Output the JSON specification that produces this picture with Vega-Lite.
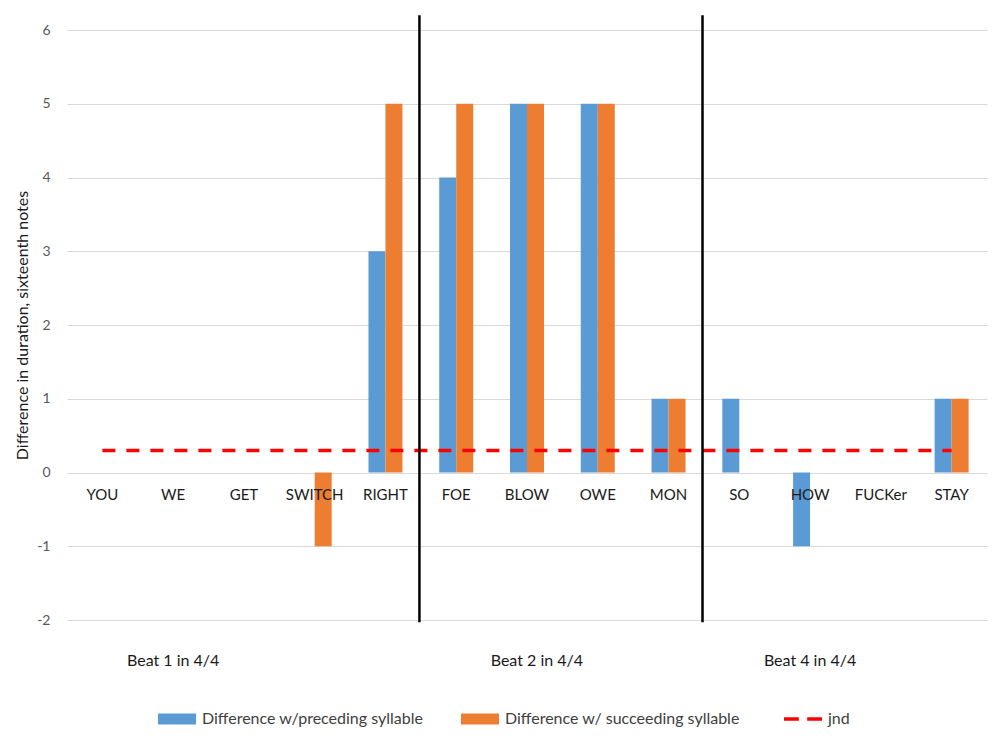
{
  "$schema": "https://vega.github.io/schema/vega-lite/v6.json",
  "width": 920,
  "height": 590,
  "autosize": {"type": "none"},
  "padding": {"left": 67, "top": 30, "right": 13, "bottom": 118},
  "background": "#ffffff",
  "config": {
    "font": "Lato",
    "view": {"stroke": null}
  },
  "datasets": {
    "bars": [
      {"syllable": "YOU", "series": "Difference w/preceding syllable", "value": 0},
      {"syllable": "YOU", "series": "Difference w/ succeeding syllable", "value": 0},
      {"syllable": "WE", "series": "Difference w/preceding syllable", "value": 0},
      {"syllable": "WE", "series": "Difference w/ succeeding syllable", "value": 0},
      {"syllable": "GET", "series": "Difference w/preceding syllable", "value": 0},
      {"syllable": "GET", "series": "Difference w/ succeeding syllable", "value": 0},
      {"syllable": "SWITCH", "series": "Difference w/preceding syllable", "value": 0},
      {"syllable": "SWITCH", "series": "Difference w/ succeeding syllable", "value": -1},
      {"syllable": "RIGHT", "series": "Difference w/preceding syllable", "value": 3},
      {"syllable": "RIGHT", "series": "Difference w/ succeeding syllable", "value": 5},
      {"syllable": "FOE", "series": "Difference w/preceding syllable", "value": 4},
      {"syllable": "FOE", "series": "Difference w/ succeeding syllable", "value": 5},
      {"syllable": "BLOW", "series": "Difference w/preceding syllable", "value": 5},
      {"syllable": "BLOW", "series": "Difference w/ succeeding syllable", "value": 5},
      {"syllable": "OWE", "series": "Difference w/preceding syllable", "value": 5},
      {"syllable": "OWE", "series": "Difference w/ succeeding syllable", "value": 5},
      {"syllable": "MON", "series": "Difference w/preceding syllable", "value": 1},
      {"syllable": "MON", "series": "Difference w/ succeeding syllable", "value": 1},
      {"syllable": "SO", "series": "Difference w/preceding syllable", "value": 1},
      {"syllable": "SO", "series": "Difference w/ succeeding syllable", "value": 0},
      {"syllable": "HOW", "series": "Difference w/preceding syllable", "value": -1},
      {"syllable": "HOW", "series": "Difference w/ succeeding syllable", "value": 0},
      {"syllable": "FUCKer", "series": "Difference w/preceding syllable", "value": 0},
      {"syllable": "FUCKer", "series": "Difference w/ succeeding syllable", "value": 0},
      {"syllable": "STAY", "series": "Difference w/preceding syllable", "value": 1},
      {"syllable": "STAY", "series": "Difference w/ succeeding syllable", "value": 1}
    ],
    "jnd": [
      {"syllable": "YOU", "jnd": 0.3},
      {"syllable": "WE", "jnd": 0.3},
      {"syllable": "GET", "jnd": 0.3},
      {"syllable": "SWITCH", "jnd": 0.3},
      {"syllable": "RIGHT", "jnd": 0.3},
      {"syllable": "FOE", "jnd": 0.3},
      {"syllable": "BLOW", "jnd": 0.3},
      {"syllable": "OWE", "jnd": 0.3},
      {"syllable": "MON", "jnd": 0.3},
      {"syllable": "SO", "jnd": 0.3},
      {"syllable": "HOW", "jnd": 0.3},
      {"syllable": "FUCKer", "jnd": 0.3},
      {"syllable": "STAY", "jnd": 0.3}
    ],
    "dividers": [
      {"syllable": "RIGHT"},
      {"syllable": "MON"}
    ],
    "beats": [
      {"beat": "Beat 1 in 4/4", "syllable": "WE"},
      {"beat": "Beat 4 in 4/4", "syllable": "HOW"}
    ]
  },
  "encoding": {
    "x": {
      "field": "syllable",
      "type": "nominal",
      "scale": {
        "domain": ["YOU", "WE", "GET", "SWITCH", "RIGHT", "FOE", "BLOW", "OWE", "MON", "SO", "HOW", "FUCKer", "STAY"],
        "paddingInner": 0.52,
        "paddingOuter": 0.26
      },
      "axis": null
    }
  },
  "layer": [
    {
      "data": {"name": "bars"},
      "mark": {"type": "bar", "clip": false},
      "encoding": {
        "y": {
          "field": "value",
          "type": "quantitative",
          "scale": {"domain": [-2, 6], "nice": false},
          "axis": {
            "title": "Difference in duration, sixteenth notes",
            "titleFont": "Lato",
            "titleFontSize": 16,
            "titleFontWeight": "normal",
            "titleColor": "#1a1a1a",
            "titlePadding": 6,
            "values": [-2, -1, 0, 1, 2, 3, 4, 5, 6],
            "labelExpr": "'' + datum.value",
            "labelFontSize": 14,
            "labelColor": "#595959",
            "labelPadding": 17,
            "ticks": false,
            "domain": false,
            "grid": true,
            "gridColor": "#d9d9d9",
            "gridWidth": 1.2
          }
        },
        "xOffset": {
          "field": "series",
          "type": "nominal",
          "scale": {"domain": ["Difference w/preceding syllable", "Difference w/ succeeding syllable"], "padding": 0}
        },
        "color": {
          "field": "series",
          "type": "nominal",
          "scale": {
            "domain": ["Difference w/preceding syllable", "Difference w/ succeeding syllable", "jnd"],
            "range": ["#5b9bd5", "#ed7d31", "#ff0000"]
          },
          "legend": {
            "orient": "none",
            "legendX": 102,
            "legendY": 681,
            "direction": "horizontal",
            "title": null,
            "labelFont": "Lato",
            "labelFontSize": 16,
            "labelColor": "#404040",
            "labelOffset": 17,
            "labelLimit": 400,
            "symbolSize": 1444,
            "columnPadding": 37,
            "symbolOpacity": 1,
            "encode": {
              "symbols": {
                "update": {
                  "shape": {"signal": "datum.value === 'jnd' ? 'M-1,0H-0.22M0.22,0H1' : 'M-1,-0.29H1V0.29H-1Z'"},
                  "fill": {"signal": "datum.value === 'jnd' ? 'transparent' : scale('color', datum.value)"},
                  "stroke": {"signal": "datum.value === 'jnd' ? '#ff0000' : 'transparent'"},
                  "strokeWidth": {"signal": "datum.value === 'jnd' ? 3.5 : 0"},
                  "opacity": {"value": 1}
                }
              }
            }
          }
        }
      }
    },
    {
      "data": {"name": "jnd"},
      "mark": {"type": "line", "strokeDash": [13, 11], "strokeWidth": 3.5},
      "encoding": {
        "y": {"field": "jnd", "type": "quantitative"},
        "color": {"datum": "jnd"}
      }
    },
    {
      "data": {"name": "jnd"},
      "mark": {"type": "text", "baseline": "middle", "dy": 22, "fontSize": 15, "color": "#1a1a1a", "font": "Lato"},
      "encoding": {
        "y": {"datum": 0},
        "text": {"field": "syllable"}
      }
    },
    {
      "data": {"name": "dividers"},
      "mark": {"type": "rule", "color": "#000000", "strokeWidth": 2.5, "clip": false},
      "encoding": {
        "x": {"field": "syllable", "type": "nominal", "bandPosition": 1.5},
        "y": {"datum": 6.2},
        "y2": {"datum": -2.03}
      }
    },
    {
      "data": {"name": "beats"},
      "mark": {"type": "text", "baseline": "middle", "fontSize": 16, "color": "#1a1a1a", "font": "Lato", "clip": false},
      "encoding": {
        "y": {"datum": -2.56},
        "text": {"field": "beat"}
      }
    },
    {
      "data": {"values": [{"beat": "Beat 2 in 4/4", "syllable": "BLOW"}]},
      "mark": {"type": "text", "baseline": "middle", "fontSize": 16, "color": "#1a1a1a", "font": "Lato", "clip": false},
      "encoding": {
        "x": {"field": "syllable", "type": "nominal", "bandPosition": 0.79},
        "y": {"datum": -2.56},
        "text": {"field": "beat"}
      }
    }
  ]
}
